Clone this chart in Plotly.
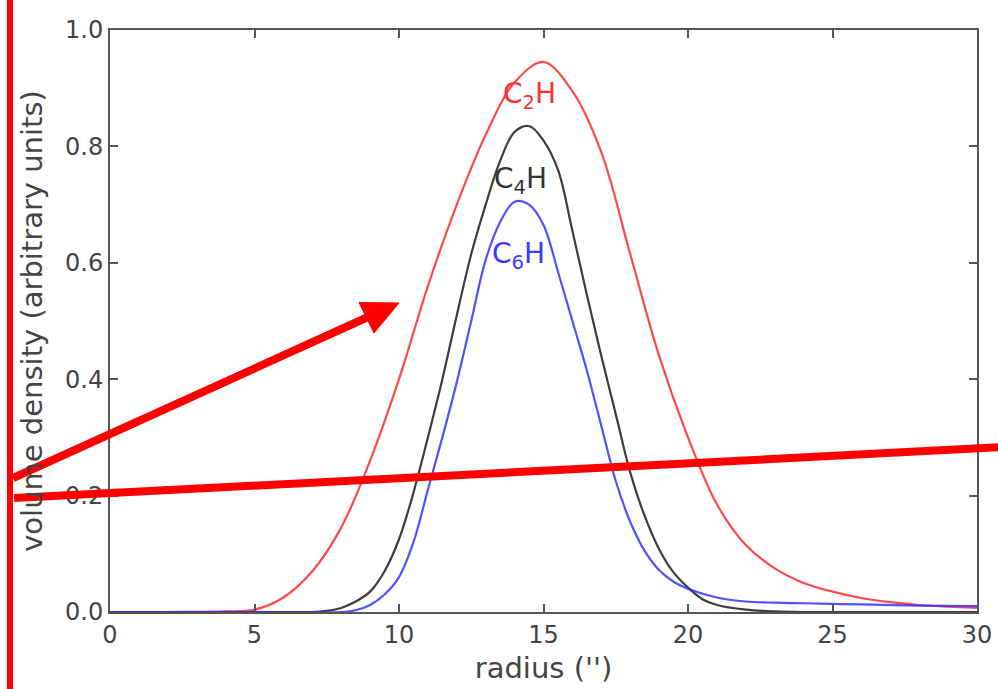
import plotly.graph_objects as go

# ---- data ----
x_c2h = [0, 2, 4, 5, 6, 7, 8, 9, 10, 11, 12, 13, 14, 15, 16, 17, 18, 19, 20, 21, 22, 23, 24, 25, 26, 27, 28, 29, 30]
y_c2h = [0, 0, 0.001, 0.004, 0.025, 0.07, 0.145, 0.26, 0.40, 0.56, 0.70, 0.82, 0.91, 0.945, 0.895, 0.79, 0.615, 0.44, 0.30, 0.185, 0.115, 0.075, 0.05, 0.035, 0.024, 0.017, 0.012, 0.009, 0.007]

x_c4h = [0, 5, 7, 7.5, 8, 8.5, 9, 9.5, 10, 10.5, 11, 11.5, 12, 12.5, 13, 13.5, 14, 14.5, 15, 15.5, 16, 16.5, 17, 17.5, 18, 18.5, 19, 19.5, 20, 20.5, 21, 22, 23, 24, 30]
y_c4h = [0, 0, 0, 0.002, 0.007, 0.018, 0.035, 0.07, 0.125, 0.205, 0.30, 0.40, 0.51, 0.615, 0.70, 0.775, 0.825, 0.835, 0.81, 0.76, 0.655, 0.545, 0.44, 0.34, 0.24, 0.165, 0.108, 0.068, 0.042, 0.022, 0.012, 0.004, 0.001, 0, 0]

x_c6h = [0, 5, 8, 8.5, 9, 9.5, 10, 10.5, 11, 11.5, 12, 12.5, 13, 13.5, 14, 14.5, 15, 15.5, 16, 16.5, 17, 17.5, 18, 18.5, 19, 19.5, 20, 21, 22, 23, 24, 26, 28, 30]
y_c6h = [0, 0, 0, 0.003, 0.012, 0.03, 0.06, 0.12, 0.21, 0.30, 0.395, 0.50, 0.605, 0.67, 0.705, 0.70, 0.665, 0.585, 0.50, 0.415, 0.32, 0.225, 0.155, 0.105, 0.072, 0.052, 0.04, 0.025, 0.018, 0.016, 0.015, 0.013, 0.011, 0.01]

labels = ["C<sub>2</sub>H", "C<sub>4</sub>H", "C<sub>6</sub>H"]
label_x = [14.5, 14.2, 14.15]
label_y = [0.888, 0.742, 0.613]
colors = ["rgba(255,40,40,0.85)", "rgba(40,40,40,0.9)", "rgba(50,50,255,0.85)"]
label_colors = ["#ff3030", "#333333", "#3a3aff"]

x_ticks = [0, 5, 10, 15, 20, 25, 30]
y_ticks = [0.0, 0.2, 0.4, 0.6, 0.8, 1.0]

W, H = 998, 689
ML, MR, MT, MB = 110, 21, 30, 77
PW, PH = W - ML - MR, H - MT - MB

fig = go.Figure()
for xs, ys, c in zip([x_c2h, x_c4h, x_c6h], [y_c2h, y_c4h, y_c6h], colors):
    fig.add_trace(go.Scatter(x=xs, y=ys, mode="lines",
                             line=dict(color=c, width=2.2, shape="spline", smoothing=1.0),
                             showlegend=False, hoverinfo="skip", cliponaxis=True))

for t, lx, ly, lc in zip(labels, label_x, label_y, label_colors):
    fig.add_annotation(x=lx, y=ly, text=t, showarrow=False,
                       font=dict(size=28, color=lc, family="DejaVu Sans"))

# red overlay marks (drawn on top of the figure, in pixel positions)
def px(x):
    return (x - ML) / PW

def py(y):
    return (H - MB - y) / PH

red = "#ff0000"
fig.add_shape(type="line", xref="paper", yref="paper",
              x0=px(10), y0=py(-5), x1=px(10), y1=py(H + 5),
              line=dict(color=red, width=6))
fig.add_shape(type="line", xref="paper", yref="paper",
              x0=px(14), y0=py(498), x1=px(1005), y1=py(447),
              line=dict(color=red, width=8))
fig.add_shape(type="line", xref="paper", yref="paper",
              x0=px(13), y0=py(478), x1=px(368), y1=py(317),
              line=dict(color=red, width=8))
tri = [(359, 302.5), (399, 303), (374, 333)]
path = "M {} {} L {} {} L {} {} Z".format(*[v for p in tri for v in (px(p[0]), py(p[1]))])
fig.add_shape(type="path", xref="paper", yref="paper", path=path,
              fillcolor=red, line=dict(color=red, width=1))

axis_common = dict(showline=True, linecolor="#555555", linewidth=2, mirror="ticks",
                   ticks="inside", ticklen=8, tickwidth=1.5, tickcolor="#555555",
                   showgrid=False, zeroline=False,
                   tickfont=dict(size=24, color="#444444", family="DejaVu Sans"))

title_font = dict(size=29, color="#444444", family="DejaVu Sans")
fig.update_xaxes(range=[0, 30], tickvals=x_ticks, ticktext=[str(v) for v in x_ticks],
                 title=dict(text="radius ('')", font=title_font, standoff=10),
                 **axis_common)
fig.update_yaxes(range=[0, 1], tickvals=y_ticks, ticktext=["%.1f" % v for v in y_ticks],
                 title=dict(text="volume density (arbitrary units)", font=title_font, standoff=14),
                 **axis_common)

fig.update_layout(width=W, height=H, margin=dict(l=ML, r=MR, t=MT, b=MB, autoexpand=False),
                  plot_bgcolor="white", paper_bgcolor="white")

fig.write_html("out.html")
